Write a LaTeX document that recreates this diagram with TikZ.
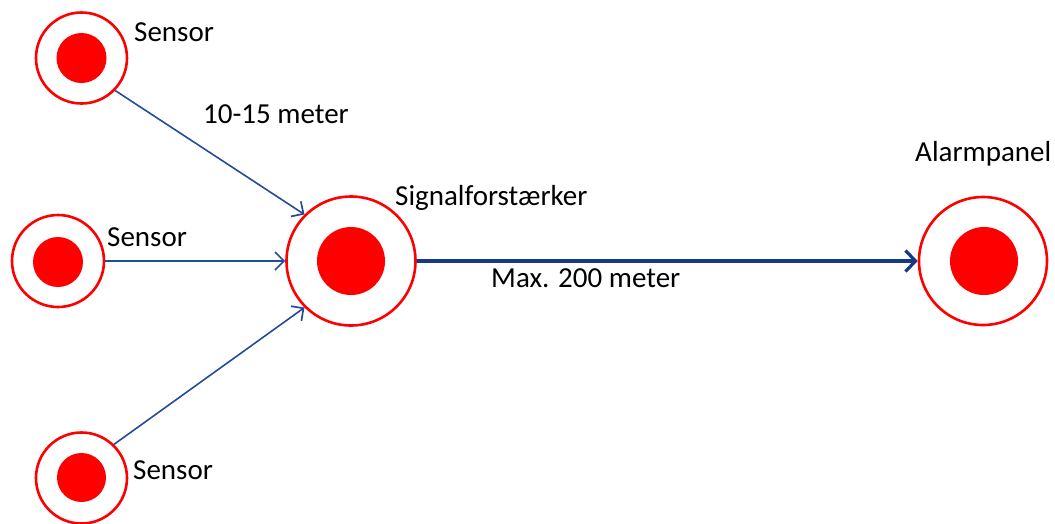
\documentclass[tikz,border=0pt]{standalone}
\usepackage{fontspec}
\setmainfont{Carlito}
\usetikzlibrary{arrows.meta}
\definecolor{linkblue}{RGB}{36,76,150}
\definecolor{mainblue}{RGB}{22,58,135}
\tikzset{
  outerring/.style={circle, draw=red, line width=2.6pt, fill=white, inner sep=0pt, minimum size=#1},
  innerdot/.style={circle, fill=red, inner sep=0pt, minimum size=#1},
  lbl/.style={anchor=base west, inner sep=0pt, font=\fontsize{29}{35}\selectfont},
  thinlink/.style={draw=linkblue, line width=1.6pt, -{Straight Barb[length=9pt,width=18pt,line width=1.7pt]}},
  mainlink/.style={draw=mainblue, line width=3.8pt, -{Straight Barb[length=10pt,width=21pt,line width=3.2pt]}}
}
\begin{document}
\begin{tikzpicture}[x=1pt,y=-1pt]
\useasboundingbox (0,0) rectangle (1055,523);
% sensors
\node[outerring=91pt] (s1) at (81.5,58) {};
\node[innerdot=50pt] (s1i) at (81.5,58) {};
\node[outerring=92pt] (s2) at (58,261) {};
\node[innerdot=50pt] (s2i) at (58,262) {};
\node[outerring=91pt] (s3) at (81.5,478) {};
\node[innerdot=49pt] (s3i) at (81.5,477.5) {};
% amplifier
\node[outerring=129pt] (sig) at (351,261) {};
\node[innerdot=68pt] (sigi) at (351,261) {};
% alarm panel
\node[outerring=128pt] (al) at (983,261) {};
\node[innerdot=68pt] (ali) at (984,261) {};
% connectors
\draw[thinlink] (s1.-44) -- (sig.135);
\draw[thinlink] (s2.east) -- (sig.west);
\draw[thinlink] (s3.46) -- (sig.-135);
\draw[mainlink] (sig.east) -- (al.west);
% labels
\node[lbl] (t1) at (134,41) {Sensor};
\node[lbl] (t2) at (107,246) {Sensor};
\node[lbl] (t3) at (133,479) {Sensor};
\node[lbl] (td) at (203,123) {10-15 meter};
\node[lbl] (ts) at (395,205) {Signalforstærker};
\node[lbl] (ta) at (915,161) {Alarmpanel};
\node[lbl] (tm) at (491,287) {Max. 200 meter};
\end{tikzpicture}
\end{document}
